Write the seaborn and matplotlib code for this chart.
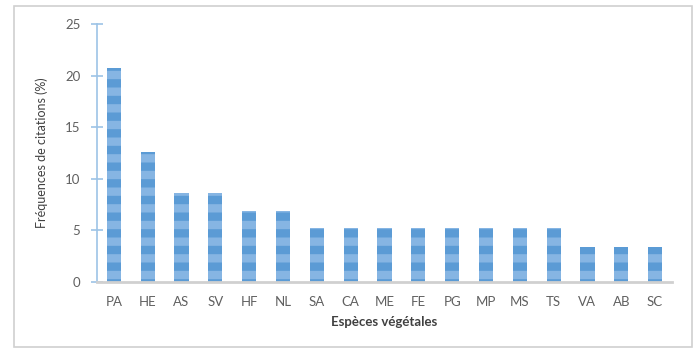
import matplotlib
matplotlib.use("Agg")
import matplotlib.pyplot as plt
import seaborn as sns
import pandas as pd
from matplotlib.patches import Rectangle

# Citation frequency per plant species
especes = ["PA", "HE", "AS", "SV", "HF", "NL", "SA", "CA", "ME", "FE",
           "PG", "MP", "MS", "TS", "VA", "AB", "SC"]
frequences = [20.7, 12.6, 8.6, 8.6, 6.9, 6.9, 5.2, 5.2, 5.2, 5.2,
              5.2, 5.2, 5.2, 5.2, 3.4, 3.4, 3.4]
yticks = [0, 5, 10, 15, 20, 25]

df = pd.DataFrame({"espece": especes, "freq": frequences})

sns.set_theme(style="white")
plt.rcParams["font.family"] = ["Lato", "DejaVu Sans"]
plt.rcParams["hatch.linewidth"] = 6.0

fig = plt.figure(figsize=(6.99, 3.48), dpi=100)
fig.patch.set_facecolor("white")

# light frame around the whole chart
fig.patches.append(Rectangle((14 / 699, 1 - 347 / 348), (692 - 14) / 699, (347 - 6) / 348,
                             transform=fig.transFigure, fill=False,
                             edgecolor="#d0d0d0", linewidth=1.2))

ax = fig.add_axes([97 / 699, 1 - 282 / 348, (672 - 97) / 699, (282 - 24) / 348])

sns.barplot(data=df, x="espece", y="freq", hue="espece",
            palette=["#5b9bd5"] * len(especes), legend=False,
            width=0.42, ax=ax, saturation=1)
for p in ax.patches:
    p.set_hatch("-")
    p.set_edgecolor("#86b5e3")
    p.set_linewidth(0)

ax.set_xlim(-0.5, len(especes) - 0.5)
ax.set_ylim(0, 25)
ax.set_yticks(yticks)
ax.set_yticklabels([str(t) for t in yticks])

for side in ["top", "right"]:
    ax.spines[side].set_visible(False)
ax.spines["left"].set_color("#9dc3e6")
ax.spines["left"].set_linewidth(1.2)
ax.spines["bottom"].set_color("#d0d0d0")
ax.spines["bottom"].set_linewidth(2)

ax.tick_params(axis="y", direction="inout", length=8, width=1.2, color="#9dc3e6",
               left=True, labelsize=9.5, labelcolor="#606060", pad=8)
ax.tick_params(axis="x", length=0, labelsize=9.5, labelcolor="#606060", pad=10)

ax.set_xlabel("Espèces végétales", fontsize=9.5, fontweight="bold", color="#404040", labelpad=6)
ax.set_ylabel("Fréquences de citations (%)", fontsize=9, color="#404040", labelpad=12)

fig.savefig("out.png", dpi=100, facecolor="white")
